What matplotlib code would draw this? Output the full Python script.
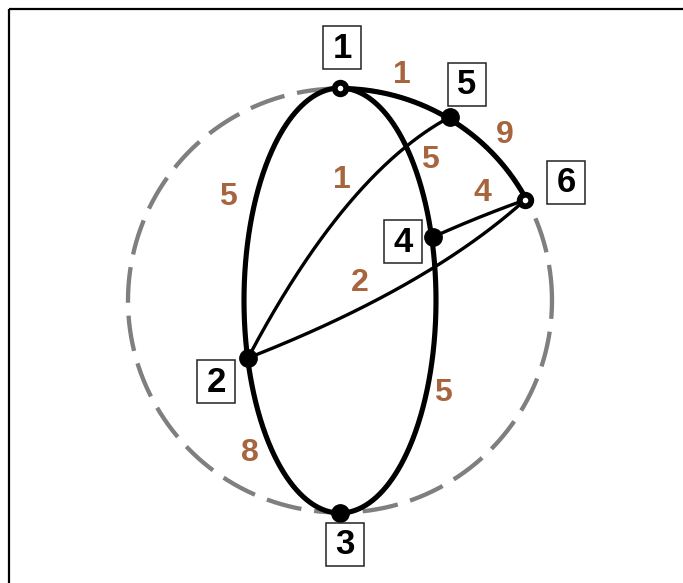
import numpy as np
import matplotlib
matplotlib.use("Agg")
import matplotlib.pyplot as plt
from matplotlib.patches import Rectangle

# ---------------- data ----------------
node_ids = [1, 2, 3, 4, 5, 6]
node_x = [340, 248, 340, 433, 450, 525]
node_y = [88, 358, 513, 237, 117, 200]
node_hollow = [True, False, False, False, False, True]

box_x = [342, 216, 345, 403, 467, 566]
box_y = [47, 381, 544, 241, 84, 182]

edge_src = [1, 1, 2, 3, 1, 5, 5, 6, 6]
edge_dst = [2, 4, 3, 4, 5, 6, 2, 4, 2]
edge_weight = [5, 5, 8, 5, 1, 9, 1, 4, 2]
edge_kind = ['ellipse', 'ellipse', 'ellipse', 'ellipse',
             'circle', 'circle', 'bezier', 'bezier', 'bezier']
edge_bend = [0, 0, 0, 0, 0, 0, 44, 2, -28]
edge_bend_pos = [0.5, 0.5, 0.5, 0.5, 0.5, 0.5, 0.35, 0.5, 0.4]
label_x = [228, 430, 250, 443, 402, 505, 342, 482, 360]
label_y = [197, 160, 453, 393, 75, 135, 180, 193, 283]

# shapes (ellipse through nodes 1-2-3-4, dashed circle through 1-5-6-3)
ell_cx, ell_cy, ell_a, ell_b = 340, 300.5, 96, 212.5
cir_cx, cir_cy, cir_r = 340, 300.5, 212

# ---------------- styling ----------------
W, H = 683, 583
fig = plt.figure(figsize=(W / 100, H / 100), dpi=100)
ax = fig.add_axes([0, 0, 1, 1])
ax.set_xlim(0, W)
ax.set_ylim(H, 0)
ax.axis('off')

label_color = '#A6653F'
font = 'Liberation Sans'

# frame lines (top and left)
ax.plot([8.5, W], [9, 9], color='black', lw=1.6, solid_capstyle='butt', zorder=1)
ax.plot([9, 9], [9, H], color='black', lw=1.6, solid_capstyle='butt', zorder=1)

# dashed circle
t = np.linspace(0, 2 * np.pi, 721)
ax.plot(cir_cx + cir_r * np.cos(t), cir_cy - cir_r * np.sin(t),
        color='#7f7f7f', lw=3.1, dashes=(8.3, 3.0), solid_capstyle='butt', zorder=2)

pos = {n: (x, y) for n, x, y in zip(node_ids, node_x, node_y)}


def wrap(d):
    return (d + np.pi) % (2 * np.pi) - np.pi


def arc_pts(p, q, cx, cy, a, b):
    t1 = np.arctan2((cy - p[1]) / b, (p[0] - cx) / a)
    t2 = np.arctan2((cy - q[1]) / b, (q[0] - cx) / a)
    tt = np.linspace(t1, t1 + wrap(t2 - t1), 200)
    return cx + a * np.cos(tt), cy - b * np.sin(tt)


def bezier_pts(p, q, h, f):
    pv = np.array(p, float)
    qv = np.array(q, float)
    v = qv - pv
    u = v / np.hypot(*v)
    nrm = np.array([-u[1], u[0]])
    c = pv + v * f + nrm * h
    sv = np.linspace(0, 1, 200)[:, None]
    pts = (1 - sv) ** 2 * pv + 2 * sv * (1 - sv) * c + sv ** 2 * qv
    return pts[:, 0], pts[:, 1]


for s_, d_, kind, h, f in zip(edge_src, edge_dst, edge_kind, edge_bend, edge_bend_pos):
    p, q = pos[s_], pos[d_]
    if kind == 'ellipse':
        xs, ys = arc_pts(p, q, ell_cx, ell_cy, ell_a, ell_b)
        lw = 3.7
    elif kind == 'circle':
        xs, ys = arc_pts(p, q, cir_cx, cir_cy, cir_r, cir_r)
        lw = 3.7
    else:
        xs, ys = bezier_pts(p, q, h, f)
        lw = 2.4
    ax.plot(xs, ys, color='black', lw=lw, solid_capstyle='round', zorder=3)

# nodes
for n, x, y, hol in zip(node_ids, node_x, node_y, node_hollow):
    if hol:
        ax.plot([x], [y], 'o', ms=8.3, mfc='white', mec='black', mew=4.2, zorder=5)
    else:
        ax.plot([x], [y], 'o', ms=12.5, mfc='black', mec='black', mew=1, zorder=5)

# edge weight labels
for w, lx, ly in zip(edge_weight, label_x, label_y):
    ax.text(lx, ly, str(w), color=label_color, fontsize=23, fontweight='bold',
            family=font, ha='center', va='center', zorder=6)

# node id boxes
bw, bh = 38, 43
for n, bx, by in zip(node_ids, box_x, box_y):
    ax.add_patch(Rectangle((bx - bw / 2, by - bh / 2), bw, bh, facecolor='white',
                           edgecolor='#222222', lw=1.1, zorder=7))
    ax.text(bx, by + 1, str(n), color='black', fontsize=25, fontweight='bold',
            family=font, ha='center', va='center', zorder=8)

fig.savefig('out.png', dpi=100)
